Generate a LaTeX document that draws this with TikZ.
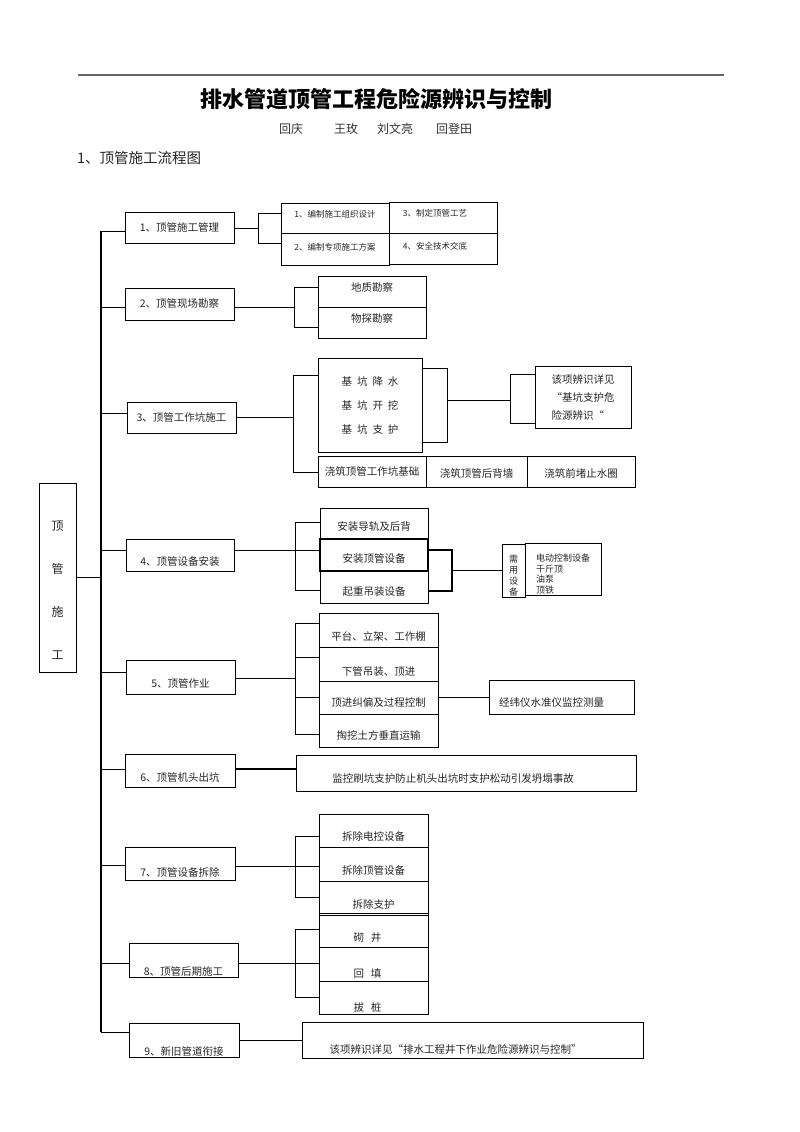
\documentclass[tikz,border=0pt]{standalone}
\usepackage{fontspec}
\setmainfont{Noto Sans CJK SC}
\usetikzlibrary{positioning}

\tikzset{
  plainbox/.style = {draw, line width=0.8pt, inner sep=0pt, text=black!85},
  box/.style = {plainbox, text height=8pt, text depth=1pt, font=\fontsize{10.5}{12}\selectfont},
  stage/.style = {box, minimum width=109pt, minimum height=32pt},
  item/.style = {box, minimum width=108pt, minimum height=31pt},
  note/.style = {font=\fontsize{8.5}{10}\selectfont, text height=6pt},
  sink/.style = {text height=#1},
  lift/.style = {text depth=#1},
  link/.style = {line width=0.7pt},
  trunk/.style = {line width=1.2pt},
}
\newcommand{\kgap}{\hspace{5pt}}

\begin{document}
\begin{tikzpicture}[x=1pt, y=-1pt]
\useasboundingbox (0,0) rectangle (800,1132);

% header
\coordinate (ruleL) at (78,75);
\coordinate (ruleR) at (724,75);
\draw [line width=1.2pt, black!60] (ruleL) -- (ruleR);
\node (title) at (376,99) [font=\fontsize{22}{26}\selectfont\bfseries] {排水管道顶管工程危险源辨识与控制};
\node (authors) at (279,129) [anchor=west, inner sep=0pt, text=black!80, font=\fontsize{12}{14}\selectfont] {回庆\hspace{31pt}王玫\hspace{19pt}刘文亮\hspace{23pt}回登田};
\node (heading) at (77,158) [anchor=west, inner sep=0pt, text=black!85, font=\fontsize{14.5}{17}\selectfont] {1、顶管施工流程图};

% root and trunk
\node (root) at (57.5,577.5) [plainbox, minimum width=37pt, minimum height=189pt, align=center, font=\fontsize{12}{43}\selectfont] {\rule{0pt}{35pt}顶\\管\\施\\工};
\coordinate (top) at (101,231);
\coordinate (bot) at (101,1032);
\draw [trunk] (top) -- (bot);
\draw [link] (root.east) -- (root.east -| top);

% stages
\node (m1) at (179.5,228) [stage, minimum height=31pt] {1、顶管施工管理};
\node (m2) at (179.5,304) [stage] {2、顶管现场勘察};
\node (m3) at (181.5,417.5) [stage, minimum height=31pt] {3、顶管工作坑施工};
\node (m4) at (180,555) [stage, minimum width=108pt, sink=21pt] {4、顶管设备安装};
\node (m5) at (180.5,677) [stage, minimum height=34pt, sink=21pt] {5、顶管作业};
\node (m6) at (180,770.5) [stage, minimum width=110pt, minimum height=33pt, sink=22pt] {6、顶管机头出坑};
\node (m7) at (180,863.5) [stage, minimum width=110pt, minimum height=33pt, sink=26pt] {7、顶管设备拆除};
\node (m8) at (183.5,960) [stage, minimum height=34pt, sink=32pt] {8、顶管后期施工};
\node (m9) at (184,1040) [stage, minimum width=110pt, minimum height=34pt, sink=32pt] {9、新旧管道衔接};

\foreach \m/\s in {m1/-3, m2/-3, m3/4, m4/5, m5/5, m6/1, m7/-2, m8/-3} {
  \coordinate (e) at ([yshift=\s pt]\m.west);
  \draw [link] (e -| top) -- (e);
}
\draw [link] (bot) -- (bot -| m9.west);

% 1
\node (c1a) at (335,218) [box, note, lift=7pt, minimum width=108pt, minimum height=30pt] {1、编制施工组织设计};
\node (c1b) at (335,249) [box, note, lift=4pt, minimum width=108pt, minimum height=32pt] {2、编制专项施工方案};
\node (c1c) at (443,217.5) [box, note, lift=9pt, minimum width=108pt, minimum height=31pt] {3、制定顶管工艺\kern16pt};
\node (c1d) at (443,248.5) [box, note, lift=4pt, minimum width=108pt, minimum height=31pt] {4、安全技术交底\kern16pt};
\coordinate (j1) at (258,228);
\coordinate (j1a) at (258,213);
\coordinate (j1b) at (258,243);
\draw [link] (m1.east) -- (j1);
\draw [link] (c1a.west |- j1a) -- (j1a) -- (j1b) -- (c1b.west |- j1b);

% 2
\node (c2a) at (372,291.5) [item, lift=9pt] {地质勘察};
\node (c2b) at (372,322.5) [item, lift=8pt] {物探勘察};
\coordinate (j2) at (294,307);
\coordinate (j2a) at (294,287);
\coordinate (j2b) at (294,327);
\draw [link] (m2.east |- j2) -- (j2);
\draw [link] (c2a.west |- j2a) -- (j2a) -- (j2b) -- (c2b.west |- j2b);

% 3
\node (c3a) at (370,405) [plainbox, minimum width=104pt, minimum height=94pt, align=center, font=\fontsize{10.5}{24}\selectfont] {基\kgap 坑\kgap 降\kgap 水\\基\kgap 坑\kgap 开\kgap 挖\\基\kgap 坑\kgap 支\kgap 护};
\node (c3b) at (372,471.5) [item] {浇筑顶管工作坑基础};
\node (c3c) at (476.5,471.5) [item, minimum width=101pt, sink=13pt] {浇筑顶管后背墙};
\node (c3d) at (581,471.5) [item, sink=13pt] {浇筑前堵止水圈};
\node (c3e) at (583,397) [plainbox, minimum width=96pt, minimum height=62pt, align=left, font=\fontsize{10.5}{18}\selectfont] {该项辨识详见\\“基坑支护危\\险源辨识“};
\coordinate (j3) at (293,417);
\coordinate (j3a) at (293,375);
\coordinate (j3b) at (293,472);
\draw [link] (m3.east |- j3) -- (j3);
\draw [link] (c3a.west |- j3a) -- (j3a) -- (j3b) -- (c3b.west |- j3b);
\coordinate (k3) at (447,400);
\coordinate (k3a) at (447,368);
\coordinate (k3b) at (447,442);
\draw [link] (c3a.east |- k3a) -- (k3a) -- (k3b) -- (c3a.east |- k3b);
\coordinate (n3) at (510,400);
\coordinate (n3a) at (510,374);
\coordinate (n3b) at (510,423);
\draw [link] (k3) -- (n3);
\draw [link] (c3e.west |- n3a) -- (n3a) -- (n3b) -- (c3e.west |- n3b);

% 4
\node (c4a) at (374,523.5) [item, sink=15pt] {安装导轨及后背};
\node (c4b) at (374,555) [item, minimum height=32pt, sink=16pt, line width=1.2pt] {安装顶管设备};
\node (c4c) at (374,587) [item, minimum height=32pt, sink=18pt] {起重吊装设备};
\node (c4d) at (513.5,570.5) [plainbox, minimum width=23pt, minimum height=53pt, align=center, font=\fontsize{9}{11}\selectfont] {\rule{0pt}{18pt}需\\用\\设\\备};
\node (c4e) at (563,569) [plainbox, minimum width=76pt, minimum height=52pt, align=left, font=\fontsize{9}{10.7}\selectfont] {\rule{0pt}{18pt}电动控制设备\\千斤顶\\油泵\\顶铁};
\coordinate (j4) at (295,550);
\coordinate (j4a) at (295,522);
\coordinate (j4b) at (295,590);
\draw [link] (m4.east |- j4) -- (c4b.west |- j4);
\draw [link] (c4a.west |- j4a) -- (j4a) -- (j4b) -- (c4c.west |- j4b);
\coordinate (k4) at (452,570);
\coordinate (k4a) at (452,550);
\coordinate (k4b) at (452,591);
\draw [link, line width=1.1pt] (c4b.east |- k4a) -- (k4a) -- (k4b) -- (c4c.east |- k4b);
\draw [link] (k4) -- (c4d.west |- k4);

% 5
\node (c5a) at (378.5,630) [item, minimum width=119pt, minimum height=34pt, sink=22pt] {平台、立架、工作棚};
\node (c5b) at (378.5,664) [item, minimum width=119pt, minimum height=34pt, sink=24pt] {下管吊装、顶进};
\node (c5c) at (378.5,697.5) [item, minimum width=119pt, minimum height=33pt, sink=19pt] {顶进纠偏及过程控制};
\node (c5d) at (378.5,730.5) [item, minimum width=119pt, minimum height=33pt, sink=19pt] {掏挖土方垂直运输};
\node (c5e) at (561.5,697) [item, minimum width=145pt, minimum height=34pt, sink=20pt] {经纬仪水准仪监控测量\kern20pt};
\coordinate (j5) at (295,678);
\coordinate (j5a) at (295,623);
\coordinate (j5b) at (295,657);
\coordinate (j5c) at (295,697);
\coordinate (j5d) at (295,734);
\draw [link] (m5.east |- j5) -- (j5);
\draw [link] (c5a.west |- j5a) -- (j5a) -- (j5d) -- (c5d.west |- j5d);
\draw [link] (j5b) -- (c5b.west |- j5b);
\draw [link] (j5c) -- (c5c.west |- j5c);
\draw [link] (c5c.east |- c5e.west) -- (c5e.west);

% 6
\node (c6) at (466,773) [item, minimum width=340pt, minimum height=36pt, sink=20pt] {监控刷坑支护防止机头出坑时支护松动引发坍塌事故\kern26pt};
\coordinate (j6) at (296,769);
\draw [line width=1.4pt] (m6.east |- j6) -- (j6);

% 7
\node (c7a) at (373.5,830.5) [item, minimum width=109pt, minimum height=33pt, sink=21pt] {拆除电控设备};
\node (c7b) at (373.5,864) [item, minimum width=109pt, minimum height=34pt, sink=22pt] {拆除顶管设备};
\node (c7c) at (373.5,898) [item, minimum width=109pt, minimum height=34pt, sink=22pt] {拆除支护};
\coordinate (j7) at (295,866);
\coordinate (j7a) at (295,836);
\coordinate (j7b) at (295,897);
\draw [link] (m7.east |- j7) -- (c7b.west |- j7);
\draw [link] (c7a.west |- j7a) -- (j7a) -- (j7b) -- (c7c.west |- j7b);

% 8
\node (c8a) at (373.5,930) [item, minimum width=109pt, minimum height=34pt, sink=24pt] {砌\hspace{7pt}井\kern12pt};
\node (c8b) at (373.5,964) [item, minimum width=109pt, minimum height=34pt, sink=28pt] {回\hspace{7pt}填\kern12pt};
\node (c8c) at (373.5,997.5) [item, minimum width=109pt, minimum height=33pt, sink=29pt] {拔\hspace{7pt}桩\kern12pt};
\coordinate (j8) at (295,963);
\coordinate (j8a) at (295,929);
\coordinate (j8b) at (295,997);
\draw [link] (m8.east |- j8) -- (c8b.west |- j8);
\draw [link] (c8a.west |- j8a) -- (j8a) -- (j8b) -- (c8c.west |- j8b);

% 9
\node (c9) at (472.5,1040) [item, minimum width=341pt, minimum height=36pt, sink=28pt] {该项辨识详见“排水工程井下作业危险源辨识与控制”\kern34pt};
\draw [link] (m9.east) -- (c9.west);

\end{tikzpicture}
\end{document}
